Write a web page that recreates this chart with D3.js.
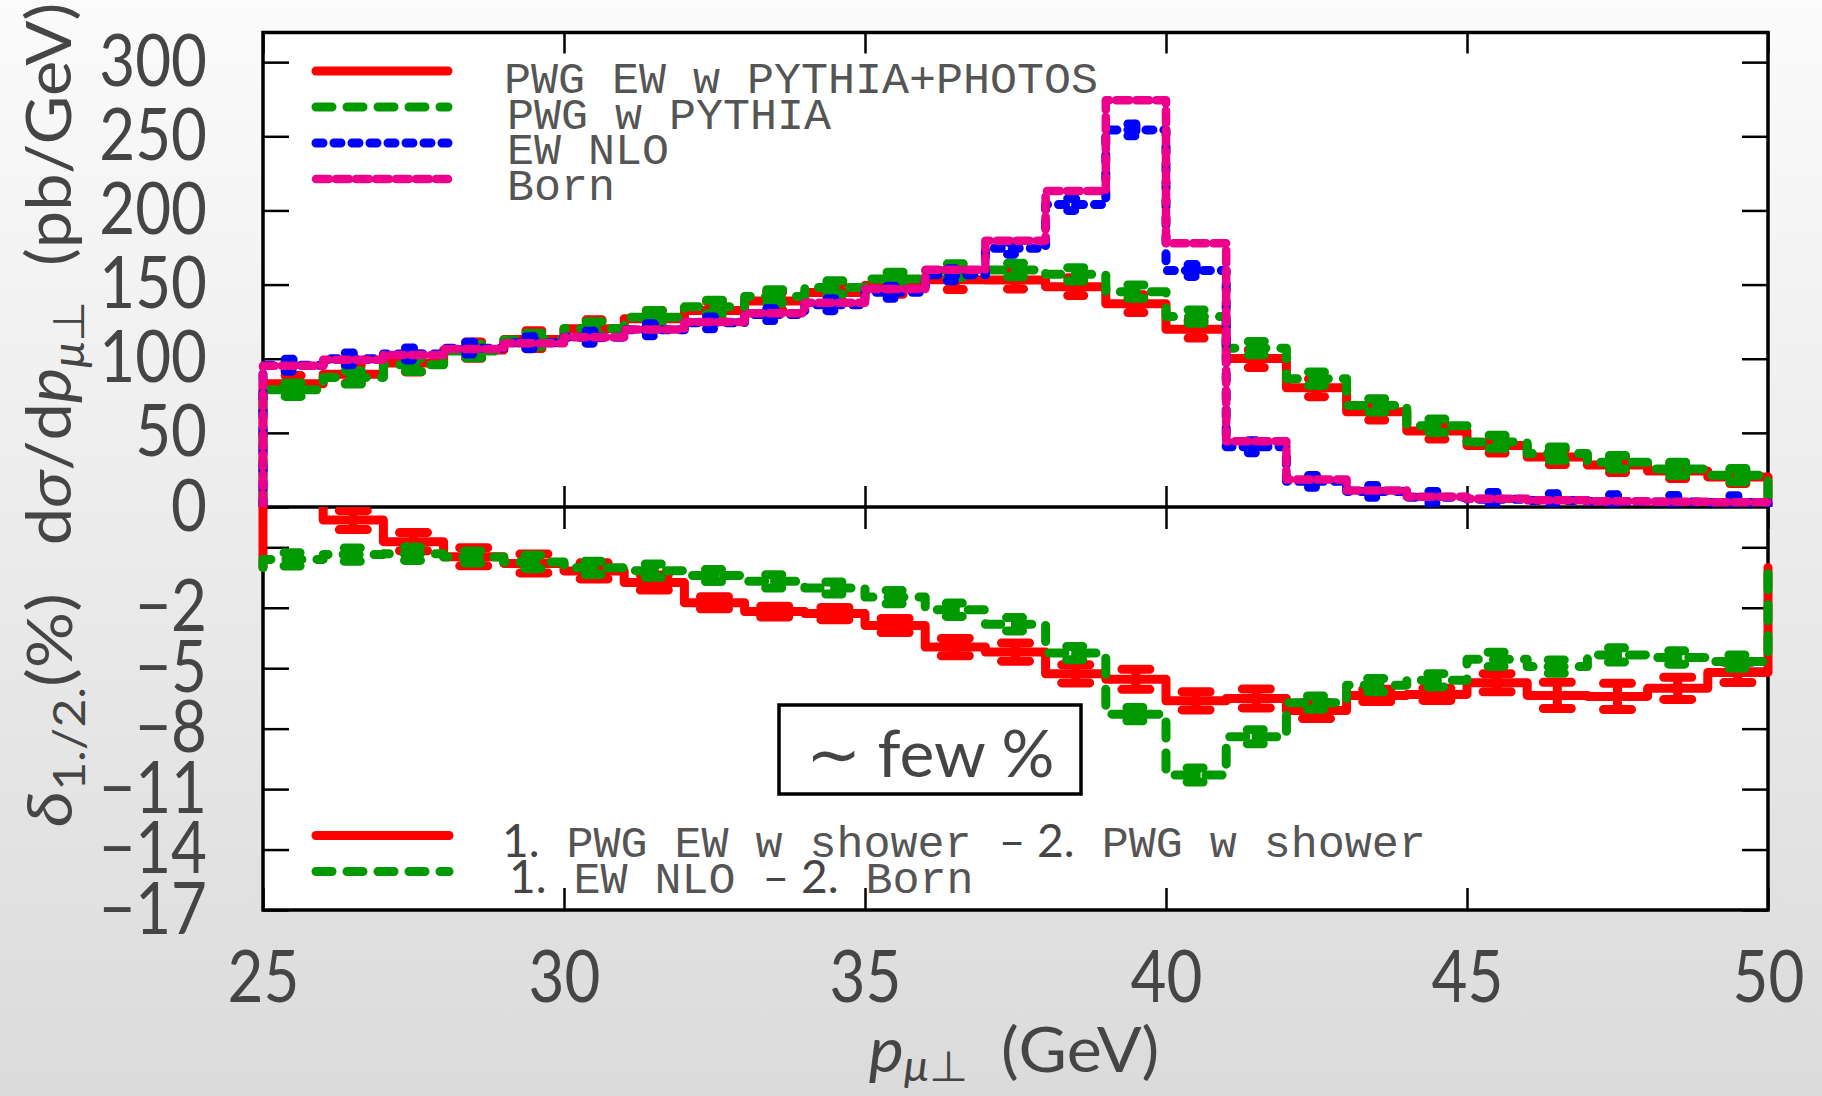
<!DOCTYPE html>
<html>
<head>
<meta charset="utf-8">
<script src="https://cdn.jsdelivr.net/npm/d3@7"></script>
<style>
  html, body { margin: 0; padding: 0; }
  svg { display: block; }
</style>
</head>
<body>
<svg id="chart" width="1822" height="1096"></svg>
<script>
// ---- data: muon transverse-momentum spectrum, 1 GeV bins from 25 to 50 GeV ----
const binLow = [25, 26, 27, 28, 29, 30, 31, 32, 33, 34, 35, 36, 37, 38, 39, 40, 41, 42, 43, 44, 45, 46, 47, 48, 49];
const binWidth = 1;

// dσ/dp (pb/GeV)
const pwgEwPythiaPhotos = [83.1, 89.5, 97.1, 105.8, 112.9, 120.2, 127.0, 132.6, 138.9, 144.6, 149.4, 153.2, 153.1, 148.6, 137.1, 119.9, 100.1, 80.4, 64.2, 51.3, 41.4, 33.7, 28.3, 24.2, 20.3];
const pwgPythia        = [79.1, 87.4, 95.9, 105.2, 112.7, 120.4, 128.0, 135.0, 142.0, 148.0, 153.8, 159.5, 159.8, 156.9, 145.2, 128.4, 107.1, 86.5, 68.5, 54.8, 43.9, 36.0, 30.2, 25.7, 21.4];
const ewNlo            = [95.6, 99.9, 103.2, 107.1, 110.8, 114.5, 119.5, 124.2, 129.8, 136.4, 144.8, 156.6, 174.5, 204.0, 254.3, 159.5, 40.6, 17.3, 10.5, 6.5, 5.3, 4.4, 3.7, 3.3, 3.1];
const born             = [95.2, 99.3, 102.5, 106.5, 110.5, 114.5, 119.7, 124.7, 130.7, 137.8, 147.0, 160.0, 179.6, 213.1, 274.3, 177.8, 44.3, 18.5, 11.2, 6.9, 5.6, 4.6, 3.9, 3.5, 3.2];

// statistical uncertainties (pb/GeV)
const errPwgEwPythiaPhotos = [5.5, 6, 6, 5.5, 6, 6, 5.5, 6, 6, 6, 6, 6.5, 6, 6, 6, 6, 6, 6, 5.5, 5.5, 5, 5, 5, 5, 4.5];
const errPwgPythia         = [4.5, 4.5, 4.5, 4.5, 4.5, 4.5, 4.5, 4.5, 4.5, 4.5, 4.5, 4.5, 4.5, 4.5, 4.5, 4.5, 4.5, 4.5, 4.5, 4.5, 4.5, 4.5, 4.5, 4.5, 4.5];
const errEwNlo             = [4, 4, 4, 4, 4, 4, 4, 4, 4, 4, 4, 4, 4, 4, 4, 4, 4, 4, 4, 4, 4.5, 4.5, 4.5, 4.5, 4.5];

// relative differences δ (%)
const deltaShower = [5.0, 2.35, 1.28, 0.53, 0.2, -0.17, -0.75, -1.75, -2.19, -2.29, -2.88, -3.95, -4.2, -5.28, -5.55, -6.62, -6.5, -7.1, -6.35, -6.3, -5.72, -6.35, -6.4, -6.0, -5.21];
const deltaEw     = [0.4, 0.64, 0.68, 0.52, 0.27, -0.02, -0.16, -0.4, -0.69, -1.02, -1.47, -2.1, -2.82, -4.25, -7.28, -10.3, -8.4, -6.71, -5.84, -5.6, -4.56, -4.92, -4.34, -4.47, -4.67];
const errDeltaShower = [0.5, 0.47, 0.45, 0.45, 0.47, 0.4, 0.37, 0.3, 0.27, 0.3, 0.35, 0.43, 0.45, 0.45, 0.5, 0.45, 0.47, 0.4, 0.3, 0.3, 0.45, 0.65, 0.65, 0.55, 0.5];
const errDeltaEw     = [0.33, 0.33, 0.33, 0.3, 0.33, 0.33, 0.33, 0.3, 0.33, 0.3, 0.33, 0.33, 0.33, 0.33, 0.33, 0.35, 0.35, 0.33, 0.33, 0.33, 0.35, 0.33, 0.35, 0.33, 0.33];

// axes
const xTicks = [25, 30, 35, 40, 45, 50];
const xTickLabels = ["25", "30", "35", "40", "45", "50"];
const yTopTicks = [0, 50, 100, 150, 200, 250, 300];
const yTopTickLabels = ["0", "50", "100", "150", "200", "250", "300"];
const yBotTicks = [1, -2, -5, -8, -11, -14, -17];
const yBotTickLabels = ["", "−2", "−5", "−8", "−11", "−14", "−17"];

const topLegend = ["PWG EW w PYTHIA+PHOTOS", "PWG w PYTHIA", "EW NLO", "Born"];

// ---- layout ----
const W = 1822, H = 1096;
const plotL = 263, plotR = 1768, plotT = 32.5, plotM = 507, plotB = 910;
const sans = "Lato, 'Open Sans', 'Noto Sans', sans-serif";
const mono = "'Liberation Mono', 'DejaVu Sans Mono', monospace";
const ink = "#454545";

const x = d3.scaleLinear().domain([25, 50]).range([plotL, plotR]);
const yTop = d3.scaleLinear().domain([0, 320]).range([plotM, plotT]);
const yBot = d3.scaleLinear().domain([-17, 3]).range([plotB, plotM]);

const styles = {
  red:   { color: "#ff0000", width: 9,   dash: null },
  green: { color: "#009a00", width: 9,   dash: "16 15" },
  blue:  { color: "#0000ff", width: 9,   dash: "7 11" },
  pink:  { color: "#ec008c", width: 8.5, dash: "13 7" }
};

const svg = d3.select("#chart");
const defs = svg.append("defs");

const grad = defs.append("linearGradient").attr("id", "bg")
  .attr("x1", 0).attr("y1", 0).attr("x2", 0).attr("y2", 1);
grad.append("stop").attr("offset", "0%").attr("stop-color", "#fbfbfb");
grad.append("stop").attr("offset", "100%").attr("stop-color", "#dbdbdb");

defs.append("clipPath").attr("id", "clipTop").append("rect")
  .attr("x", plotL - 12).attr("y", plotT).attr("width", plotR - plotL + 24).attr("height", plotM - plotT);
defs.append("clipPath").attr("id", "clipBot").append("rect")
  .attr("x", plotL - 12).attr("y", plotM).attr("width", plotR - plotL + 24).attr("height", plotB - plotM);

svg.append("rect").attr("width", W).attr("height", H).attr("fill", "url(#bg)");
svg.append("rect").attr("x", plotL).attr("y", plotT).attr("width", plotR - plotL).attr("height", plotB - plotT)
  .attr("fill", "#fff");

// ---- ticks and tick labels ----
const tickW = 2.5;
function styleAxis(g) {
  g.select(".domain").remove();
  g.selectAll(".tick line").attr("stroke", "#000").attr("stroke-width", tickW);
}
const labelScale = 0.86;

// left, top panel
svg.append("g").attr("transform", `translate(${plotL},0)`)
  .call(d3.axisLeft(yTop).tickValues(yTopTicks).tickSizeInner(-26).tickSizeOuter(0).tickPadding(56)
    .tickFormat((d, i) => yTopTickLabels[i]))
  .call(styleAxis);
// left, bottom panel
svg.append("g").attr("transform", `translate(${plotL},0)`)
  .call(d3.axisLeft(yBot).tickValues(yBotTicks).tickSizeInner(-26).tickSizeOuter(0).tickPadding(56)
    .tickFormat((d, i) => yBotTickLabels[i]))
  .call(styleAxis);
// right side mirror ticks
svg.append("g").attr("transform", `translate(${plotR},0)`)
  .call(d3.axisRight(yTop).tickValues(yTopTicks.slice(1)).tickSizeInner(-26).tickSizeOuter(0).tickFormat(""))
  .call(styleAxis);
svg.append("g").attr("transform", `translate(${plotR},0)`)
  .call(d3.axisRight(yBot).tickValues(yBotTicks).tickSizeInner(-26).tickSizeOuter(0).tickFormat(""))
  .call(styleAxis);
// x ticks on every horizontal edge
svg.append("g").attr("transform", `translate(0,${plotT})`)
  .call(d3.axisTop(x).tickValues(xTicks).tickSizeInner(-21).tickSizeOuter(0).tickFormat(""))
  .call(styleAxis);
svg.append("g").attr("transform", `translate(0,${plotM})`)
  .call(d3.axisBottom(x).tickValues(xTicks).tickSizeInner(-21).tickSizeOuter(0).tickFormat(""))
  .call(styleAxis);
svg.append("g").attr("transform", `translate(0,${plotM})`)
  .call(d3.axisTop(x).tickValues(xTicks).tickSizeInner(-22).tickSizeOuter(0).tickFormat(""))
  .call(styleAxis);
svg.append("g").attr("class", "xaxis").attr("transform", `translate(0,${plotB})`)
  .call(d3.axisBottom(x).tickValues(xTicks).tickSizeInner(-22).tickSizeOuter(0).tickPadding(41)
    .tickFormat((d, i) => xTickLabels[i]))
  .call(styleAxis);

svg.selectAll(".tick text")
  .attr("font-family", sans).attr("font-size", 72).attr("font-weight", 400).attr("fill", ink)
  .attr("transform", `scale(${labelScale},1)`)
  .each(function () {
    const t = d3.select(this);
    const xv = +t.attr("x");
    if (xv) t.attr("x", xv / labelScale);
  });

// frame and panel divider
svg.append("rect").attr("x", plotL).attr("y", plotT).attr("width", plotR - plotL).attr("height", plotB - plotT)
  .attr("fill", "none").attr("stroke", "#000").attr("stroke-width", 3.5);
svg.append("line").attr("x1", plotL).attr("x2", plotR).attr("y1", plotM).attr("y2", plotM)
  .attr("stroke", "#000").attr("stroke-width", 3.5);

// ---- histogram drawing ----
function stepPoints(vals) {
  const pts = [[binLow[0], 0]];
  vals.forEach((v, i) => {
    pts.push([binLow[i], v]);
    pts.push([binLow[i] + binWidth, v]);
  });
  pts.push([binLow[vals.length - 1] + binWidth, 0]);
  return pts;
}
function applyStyle(sel, st) {
  sel.attr("fill", "none").attr("stroke", st.color).attr("stroke-width", st.width)
    .attr("stroke-linecap", "round").attr("stroke-linejoin", "round");
  if (st.dash) sel.attr("stroke-dasharray", st.dash);
  return sel;
}
function drawHist(g, y, vals, errs, st, capHalf) {
  const line = d3.line().x(d => x(d[0])).y(d => y(d[1]));
  applyStyle(g.append("path").attr("d", line(stepPoints(vals))), st);
  if (!errs) return;
  const bars = vals.map((v, i) => {
    const xc = x(binLow[i] + binWidth / 2);
    const y1 = y(v + errs[i]), y2 = y(v - errs[i]);
    return `M${xc - capHalf},${y1}H${xc + capHalf}M${xc},${y1}V${y2}M${xc - capHalf},${y2}H${xc + capHalf}`;
  });
  applyStyle(g.append("g").selectAll("path").data(bars).join("path").attr("d", d => d), st);
}

const gTop = svg.append("g").attr("clip-path", "url(#clipTop)");
drawHist(gTop, yTop, pwgEwPythiaPhotos, errPwgEwPythiaPhotos, styles.red, 8);
drawHist(gTop, yTop, pwgPythia, errPwgPythia, styles.green, 8);
drawHist(gTop, yTop, ewNlo, errEwNlo, styles.blue, 8);
drawHist(gTop, yTop, born, null, styles.pink, 8);

const gBot = svg.append("g").attr("clip-path", "url(#clipBot)");
drawHist(gBot, yBot, deltaShower, errDeltaShower, styles.red, 14);
drawHist(gBot, yBot, deltaEw, errDeltaEw, styles.green, 9);

// ---- legends ----
const topKeys = [styles.red, styles.green, styles.blue, styles.pink];
const topSampleY = [71, 107, 143, 179];
const topTextY = [93, 128.5, 164, 200];
const topTextX = [504, 507, 507, 507];
topKeys.forEach((st, i) => {
  applyStyle(svg.append("line").attr("x1", 316).attr("x2", 448)
    .attr("y1", topSampleY[i]).attr("y2", topSampleY[i]), st);
  svg.append("text").attr("x", topTextX[i]).attr("y", topTextY[i])
    .attr("font-family", mono).attr("font-size", 45).attr("fill", "#555")
    .attr("xml:space", "preserve").text(topLegend[i]);
});

const botLegend = [
  [["1.", sans], [" PWG EW w shower ", mono], ["– 2.", sans], [" PWG w shower", mono]],
  [["1.", sans], [" EW NLO ", mono], ["– 2.", sans], [" Born", mono]]
];
const botKeys = [styles.red, styles.green];
const botSampleY = [835.5, 871.5];
const botTextY = [857, 892.5];
const botTextX = [502, 509];
botKeys.forEach((st, i) => {
  applyStyle(svg.append("line").attr("x1", 316).attr("x2", 449)
    .attr("y1", botSampleY[i]).attr("y2", botSampleY[i]), st);
  const t = svg.append("text").attr("x", botTextX[i]).attr("y", botTextY[i])
    .attr("xml:space", "preserve");
  botLegend[i].forEach(([s, f]) => {
    t.append("tspan").attr("font-family", f).attr("font-size", f === sans ? 46 : 45)
      .attr("fill", f === sans ? ink : "#555").text(s);
  });
});

// ---- annotation box ----
svg.append("rect").attr("x", 779).attr("y", 705).attr("width", 302).attr("height", 89)
  .attr("fill", "#fff").attr("stroke", "#000").attr("stroke-width", 3.5);
svg.append("text").attr("x", 930).attr("y", 777).attr("text-anchor", "middle")
  .attr("font-family", sans).attr("font-size", 66).attr("fill", ink)
  .attr("xml:space", "preserve").text("∼ few %");

// ---- axis titles ----
function fitTitle(t, target, tx, ty, rotate) {
  const len = t.node().getComputedTextLength();
  const s = target / len;
  t.attr("transform", `translate(${tx},${ty})${rotate ? " rotate(-90)" : ""} scale(${s},1)`);
}
function titleText() {
  return svg.append("text").attr("text-anchor", "middle").attr("font-family", sans)
    .attr("font-size", 62).attr("fill", ink).attr("xml:space", "preserve");
}

const yt = titleText();
yt.append("tspan").text("d");
yt.append("tspan").attr("font-style", "italic").text("σ");
yt.append("tspan").text("/d");
yt.append("tspan").attr("font-style", "italic").text("p");
yt.append("tspan").attr("font-size", 44).attr("dy", 13).attr("font-style", "italic").text("μ");
yt.append("tspan").attr("font-size", 44).text("⊥");
yt.append("tspan").attr("dy", -13).text("  (pb/GeV)");
fitTitle(yt, 542, 71, 274, true);

const yb = titleText();
yb.append("tspan").attr("font-style", "italic").text("δ");
yb.append("tspan").attr("font-size", 44).attr("dy", 13).text("1./2.");
yb.append("tspan").attr("dy", -13).text("(%)");
fitTitle(yb, 234, 72, 710, true);

const xt = titleText();
xt.append("tspan").attr("font-style", "italic").text("p");
xt.append("tspan").attr("font-size", 42).attr("dy", 9).attr("font-style", "italic").text("μ");
xt.append("tspan").attr("font-size", 42).text("⊥");
xt.append("tspan").attr("dy", -9).text("  (GeV)");
fitTitle(xt, 292, 1014, 1072, false);
</script>
</body>
</html>
